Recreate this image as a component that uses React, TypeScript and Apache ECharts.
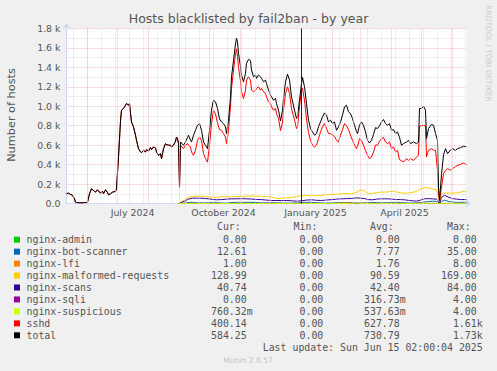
import React, { useEffect, useRef } from "react";
import * as echarts from "echarts";

// Day offsets from 2024-05-11 (one pixel per day in the munin year graph, 400 days)
const TITLE = "Hosts blacklisted by fail2ban - by year";
const Y_NAME = "Number of hosts";

const LABEL_DAYS = [66, 157, 249, 338];
const LABEL_TEXT = ["July 2024", "October 2024", "January 2025", "April 2025"];
const MONTH_DAYS = [21, 51, 82, 113, 143, 174, 204, 235, 266, 294, 325, 355, 386];
const BIWEEK_DAYS = [7, 21, 35, 49, 63, 77, 91, 105, 119, 133, 147, 161, 175, 189, 203, 217, 231, 245, 259, 273, 287, 301, 315, 329, 343, 357, 371, 385, 399];
const VRULE_DAY = 235;

// Before the nginx jails existed, sshd == total
const DAYS_EARLY = [0, 2, 4, 6, 8, 9, 10, 13, 16, 19, 21, 23, 25, 27, 29, 31, 34, 36, 37, 39, 41, 42, 44, 46, 49, 50, 52, 54, 55, 57, 59, 60, 62, 63, 64, 65, 67, 69, 70, 72, 74, 75, 77, 79, 80, 82, 84, 85, 87, 89, 90, 92, 94, 95, 97, 99, 100, 102, 104, 105, 107, 109, 110, 111, 112];
const EARLY = [100, 107, 93, 85, 48, 13, 10, 8, 8, 10, 12, 100, 151, 134, 117, 141, 106, 127, 100, 141, 113, 89, 100, 117, 124, 151, 478, 850, 960, 977, 1011, 1029, 1011, 1029, 926, 839, 788, 702, 650, 564, 530, 523, 547, 530, 554, 540, 575, 554, 581, 570, 530, 495, 513, 461, 564, 616, 606, 600, 599, 581, 600, 640, 684, 667, 616];

const DAYS_LATE = [
  113, 114, 117, 119, 121, 122, 124, 125, 127, 129,
  131, 133, 135, 137, 139, 141, 143, 145, 147, 149,
  151, 153, 155, 157, 159, 160, 162, 164, 165, 167,
  169, 170, 171, 172, 174, 175, 177, 179, 180, 182,
  184, 185, 187, 189, 190, 192, 194, 195, 197, 199,
  200, 202, 204, 205, 207, 209, 210, 212, 214, 216,
  217, 219, 221, 223, 225, 228, 230, 231, 233, 235,
  236, 238, 240, 242, 244, 246, 248, 250, 252, 254,
  256, 258, 260, 262, 264, 266, 268, 270, 272, 274,
  276, 278, 280, 282, 284, 286, 288, 290, 291, 293,
  295, 297, 299, 301, 303, 305, 307, 309, 311, 313,
  315, 317, 319, 321, 323, 325, 327, 329, 331, 333,
  335, 337, 340, 342, 344, 347, 350, 352, 353, 355,
  357, 359, 360, 362, 365, 367, 369, 371, 372, 373,
  375, 377, 379, 381, 384, 386, 389, 391, 394, 397,
  400,
];
const TOTAL_LATE = [
  168, 633, 599, 633, 680, 702, 650, 633, 702, 753,
  805, 822, 753, 633, 599, 564, 753, 960, 1063, 1046,
  977, 870, 839, 822, 788, 719, 857, 1097, 1303, 1470,
  1640, 1700, 1665, 1545, 1407, 1321, 1252, 1338, 1441, 1483,
  1469, 1373, 1303, 1321, 1287, 1321, 1303, 1287, 1252, 1269,
  1235, 1166, 1115, 1097, 1063, 1080, 1029, 960, 850, 960,
  1080, 1250, 1331, 1269, 1097, 960, 874, 891, 1063, 1235,
  1297, 1200, 1029, 857, 771, 736, 702, 719, 790, 839,
  891, 932, 908, 839, 857, 822, 839, 753, 788, 839,
  908, 994, 1011, 943, 925, 874, 805, 740, 719, 805,
  839, 805, 736, 650, 622, 650, 710, 780, 771, 800,
  839, 864, 822, 805, 822, 753, 760, 719, 736, 680,
  599, 616, 633, 650, 616, 633, 616, 633, 977, 977,
  1001, 960, 667, 771, 812, 805, 719, 650, 168, 31,
  300, 500, 564, 513, 550, 564, 547, 564, 575, 588,
  584,
];
const SSHD_LATE = [
  168, 599, 564, 599, 616, 600, 582, 530, 495, 547,
  650, 684, 650, 513, 461, 426, 599, 822, 960, 920,
  830, 760, 753, 719, 684, 616, 753, 1000, 1183, 1373,
  1540, 1590, 1510, 1400, 1260, 1150, 1080, 1166, 1269, 1303,
  1269, 1166, 1149, 1166, 1183, 1200, 1166, 1183, 1149, 1132,
  1097, 1046, 1029, 994, 960, 977, 925, 874, 750, 830,
  960, 1130, 1200, 1132, 977, 860, 771, 790, 1000, 1166,
  1183, 1063, 870, 730, 650, 600, 581, 599, 667, 736,
  788, 822, 771, 719, 719, 702, 690, 650, 633, 702,
  760, 822, 800, 760, 702, 650, 599, 564, 590, 667,
  650, 599, 547, 495, 461, 478, 530, 600, 600, 640,
  667, 678, 633, 616, 633, 564, 582, 530, 547, 450,
  440, 426, 461, 444, 461, 444, 478, 495, 795, 800,
  805, 800, 478, 547, 564, 550, 547, 341, 134, 31,
  168, 306, 340, 358, 341, 358, 380, 392, 402, 416,
  400,
];

const NG_DAYS = [
  112, 114, 118, 122, 126, 130, 134, 138, 142, 146,
  150, 155, 160, 165, 170, 175, 180, 185, 190, 195,
  200, 205, 210, 215, 220, 225, 230, 235, 240, 245,
  250, 255, 260, 265, 270, 275, 280, 285, 290, 294,
  298, 302, 306, 310, 314, 318, 322, 326, 330, 334,
  338, 342, 346, 350, 354, 358, 362, 366, 370, 372,
  373, 375, 378, 382, 386, 390, 394, 398, 400,
];
const ADMIN = [
  0, 0, 0, 0, 0, 0, 0, 0, 0, 0,
  0, 0, 0, 0, 0, 0, 0, 0, 0, 0,
  0, 0, 0, 0, 0, 0, 0, 0, 0, 0,
  0, 0, 0, 0, 0, 0, 0, 0, 0, 0,
  0, 0, 0, 0, 0, 0, 0, 0, 0, 0,
  0, 0, 0, 0, 0, 0, 0, 0, 0, 0,
  0, 0, 0, 0, 0, 0, 0, 0, 0,
];
const BOT = [
  0, 0, 5, 10, 12, 8, 6, 5, 8, 12,
  10, 5, 4, 10, 12, 12, 12, 12, 10, 6,
  5, 10, 6, 5, 5, 4, 8, 10, 12, 12,
  8, 6, 5, 5, 8, 10, 10, 8, 6, 5,
  6, 8, 10, 10, 8, 6, 8, 10, 12, 10,
  8, 6, 5, 6, 10, 15, 20, 24, 20, 10,
  0, 20, 35, 22, 15, 12, 12, 13, 13,
];
const LFI = [
  0, 0, 0, 1, 2, 1, 0, 0, 1, 2,
  2, 1, 0, 0, 1, 2, 1, 0, 0, 1,
  1, 2, 2, 1, 0, 0, 1, 2, 2, 1,
  2, 1, 0, 1, 2, 4, 8, 4, 2, 1,
  2, 2, 1, 1, 2, 2, 1, 0, 2, 2,
  1, 1, 0, 1, 2, 3, 3, 2, 1, 0,
  0, 2, 2, 2, 1, 1, 1, 1, 1,
];
const MALFORMED = [
  0, 13, 38, 65, 72, 75, 75, 72, 68, 65,
  62, 72, 68, 70, 72, 72, 75, 79, 76, 74,
  72, 65, 52, 55, 58, 60, 72, 79, 83, 80,
  80, 83, 93, 93, 95, 100, 105, 100, 117, 141,
  127, 100, 105, 110, 117, 117, 120, 127, 120, 110,
  107, 107, 115, 124, 151, 162, 160, 151, 140, 60,
  0, 100, 107, 107, 107, 110, 117, 125, 129,
];
const SCANS = [
  0, 5, 24, 45, 55, 55, 55, 52, 48, 42,
  38, 40, 45, 48, 48, 50, 48, 46, 41, 40,
  35, 31, 31, 30, 31, 28, 24, 28, 35, 38,
  33, 31, 36, 40, 45, 48, 50, 52, 58, 55,
  50, 40, 38, 45, 48, 48, 48, 44, 41, 40,
  38, 32, 28, 24, 35, 48, 50, 48, 45, 20,
  0, 65, 84, 65, 50, 45, 40, 41, 41,
];
const SQLI = [
  0, 0, 0, 0, 0, 0, 1, 0, 0, 0,
  0, 0, 0, 1, 0, 0, 0, 0, 0, 0,
  4, 1, 0, 0, 0, 0, 0, 0, 1, 0,
  0, 0, 0, 0, 0, 0, 0, 1, 0, 0,
  0, 0, 0, 0, 0, 1, 0, 0, 0, 0,
  0, 0, 0, 0, 0, 0, 0, 0, 0, 0,
  0, 0, 0, 0, 0, 0, 0, 0, 0,
];
const SUSPICIOUS = [
  0, 0, 0, 0, 1, 1, 0, 0, 0, 1,
  1, 0, 0, 0, 1, 1, 0, 0, 0, 0,
  1, 1, 0, 0, 0, 1, 2, 1, 0, 0,
  0, 0, 1, 1, 0, 0, 0, 1, 4, 1,
  0, 0, 0, 1, 1, 0, 0, 0, 1, 1,
  0, 0, 1, 1, 0, 0, 1, 2, 1, 0,
  0, 1, 1, 1, 1, 1, 1, 1, 1,
];

const NAMES = ["nginx-admin", "nginx-bot-scanner", "nginx-lfi", "nginx-malformed-requests", "nginx-scans", "nginx-sqli", "nginx-suspicious", "sshd", "total"];
const COLORS = ["#00CC00", "#0066B3", "#FF8000", "#FFCC00", "#330099", "#990099", "#CCFF00", "#FF0000", "#000000"];
const CUR = ["0.00", "12.61", "1.00", "128.99", "40.74", "0.00", "760.32m", "400.14", "584.25"];
const MIN = ["0.00", "0.00", "0.00", "0.00", "0.00", "0.00", "0.00", "0.00", "0.00"];
const AVG = ["0.00", "7.77", "1.76", "90.59", "42.40", "316.73m", "537.63m", "627.78", "730.79"];
const MAX = ["0.00", "35.00", "8.00", "169.00", "84.00", "4.00", "4.00", "1.61k", "1.73k"];
const HEADERS = ["Cur:", "Min:", "Avg:", "Max:"];
const LAST_UPDATE = "Last update: Sun Jun 15 02:00:04 2025";
const WATERMARK = "RRDTOOL / TOBI OETIKER";
const VERSION = "Munin 2.0.57";

const pairs = (days: number[], vals: number[]) => days.map((d, i) => [d, vals[i]]);

export default function App() {
  const ref = useRef<HTMLDivElement>(null);
  useEffect(() => {
    if (!ref.current) return;
    const chart = echarts.init(ref.current, undefined, { renderer: "svg" });
    const FONT = '"DejaVu Sans", sans-serif';
    const MONO = '"DejaVu Sans Mono", monospace';
    const TXT = "#555";
    const AXIS = "#CFD6F8";
    const MGRID = "#f1bcbc";
    const GRID = "#dcdcdc";
    const CH = 5.96;

    const ngSeries = [ADMIN, BOT, LFI, MALFORMED, SCANS, SQLI, SUSPICIOUS];
    const sshd = [...pairs(DAYS_EARLY, EARLY), ...pairs(DAYS_LATE, SSHD_LATE)];
    const total = [...pairs(DAYS_EARLY, EARLY), ...pairs(DAYS_LATE, TOTAL_LATE)];
    const seriesData = [...ngSeries.map((v) => pairs(NG_DAYS, v)), sshd, total];

    const lineSeries = seriesData.map((data, i) => ({
      type: "line",
      name: NAMES[i],
      data,
      showSymbol: false,
      symbol: "none",
      z: 3,
      lineStyle: { color: COLORS[i], width: 1 },
      itemStyle: { color: COLORS[i] },
      silent: true,
    }));

    const gridSeries = {
      type: "line",
      data: [],
      z: 1,
      silent: true,
      markLine: {
        silent: true,
        symbol: "none",
        animation: false,
        label: { show: false },
        data: [
          ...BIWEEK_DAYS.map((d) => ({ xAxis: d, lineStyle: { color: GRID, type: [1, 1], width: 1 } })),
          ...MONTH_DAYS.map((d) => ({ xAxis: d, lineStyle: { color: MGRID, type: [1, 1], width: 1 } })),
          { xAxis: VRULE_DAY, lineStyle: { color: "#222", type: "solid", width: 1 } },
        ],
      },
    };

    const colRight = [246.7, 323.3, 399.7, 476.7];
    const cols = [CUR, MIN, AVG, MAX];
    const rowY = (i: number) => 239.7 + i * 11.95;
    const elements: any[] = [];
    HEADERS.forEach((h, c) => {
      elements.push({
        type: "text", x: colRight[c] - CH, y: 226.7, silent: true,
        style: { text: h, font: `9.9px ${MONO}`, fill: TXT, textAlign: "right", textVerticalAlign: "middle", align: "right", verticalAlign: "middle" },
      });
    });
    NAMES.forEach((n, i) => {
      const y = rowY(i);
      elements.push({ type: "rect", shape: { x: 14, y: y - 3, width: 6, height: 6 }, style: { fill: COLORS[i] }, silent: true });
      elements.push({
        type: "text", x: 26.5, y, silent: true,
        style: { text: n, font: `9.9px ${MONO}`, fill: TXT, textAlign: "left", textVerticalAlign: "middle", align: "left", verticalAlign: "middle" },
      });
      cols.forEach((col, c) => {
        const s = col[i];
        const hasUnit = /[a-z]$/i.test(s);
        elements.push({
          type: "text", x: colRight[c] + (hasUnit ? CH : 0), y, silent: true,
          style: { text: s, font: `9.9px ${MONO}`, fill: TXT, textAlign: "right", textVerticalAlign: "middle", align: "right", verticalAlign: "middle" },
        });
      });
    });
    elements.push({
      type: "text", x: 482.7, y: 347.5, silent: true,
      style: { text: LAST_UPDATE, font: `9.9px ${MONO}`, fill: TXT, textAlign: "right", textVerticalAlign: "middle", align: "right", verticalAlign: "middle" },
    });
    elements.push({
      type: "text", x: 248, y: 360, silent: true,
      style: { text: VERSION, font: `7.6px ${FONT}`, fill: "#c4c4c4", textAlign: "center", textVerticalAlign: "middle", align: "center", verticalAlign: "middle" },
    });
    elements.push({
      type: "text", x: 11, y: 115, rotation: Math.PI / 2, silent: true,
      style: { text: Y_NAME, font: `11.3px ${FONT}`, fill: TXT, textAlign: "center", textVerticalAlign: "middle", align: "center", verticalAlign: "middle" },
    });
    elements.push({
      type: "text", x: 488.3, y: 53.5, rotation: -Math.PI / 2, silent: true,
      style: { text: WATERMARK, font: `7.5px ${FONT}`, fill: "#cccccc", textAlign: "center", textVerticalAlign: "middle", align: "center", verticalAlign: "middle" },
    });

    chart.setOption({
      animation: false,
      backgroundColor: "#F0F0F0",
      textStyle: { fontFamily: FONT },
      title: {
        text: TITLE, left: "center", top: 12, padding: 0,
        textStyle: { fontSize: 12.5, fontWeight: "normal", color: TXT, fontFamily: FONT },
      },
      grid: { left: 66.5, top: 28.5, width: 400, height: 175, show: true, backgroundColor: "#ffffff", borderWidth: 0 },
      xAxis: {
        type: "value", min: 0, max: 400,
        axisLine: { show: true, lineStyle: { color: AXIS, width: 1 }, symbol: ["none", "arrow"], symbolSize: [6, 5], symbolOffset: [0, 4.5] },
        axisTick: { show: false },
        splitLine: { show: false },
        axisLabel: {
          customValues: LABEL_DAYS,
          formatter: (v: number) => LABEL_TEXT[LABEL_DAYS.indexOf(v)] ?? "",
          color: TXT, fontSize: 9.4, fontFamily: FONT, margin: 4,
        },
      },
      yAxis: {
        type: "value", min: 0, max: 1800, interval: 200,
        axisLine: { show: true, lineStyle: { color: AXIS, width: 1 }, symbol: ["none", "arrow"], symbolSize: [6, 5], symbolOffset: [0, 5] },
        axisTick: { show: false },
        axisLabel: {
          formatter: (v: number) => (v === 0 ? "0.0" : (v / 1000).toFixed(1) + " k"),
          color: TXT, fontSize: 9.4, fontFamily: FONT, margin: 6,
        },
        splitLine: { show: true, lineStyle: { color: MGRID, type: [1, 1], width: 1 } },
        minorTick: { show: false, splitNumber: 2 },
        minorSplitLine: { show: true, lineStyle: { color: GRID, type: [1, 1], width: 1 } },
      },
      graphic: { elements },
      series: [gridSeries, ...lineSeries],
    });
    return () => chart.dispose();
  }, []);
  return <div ref={ref} style={{ position: "absolute", left: 0, top: 0, width: 497, height: 371 }} />;
}
